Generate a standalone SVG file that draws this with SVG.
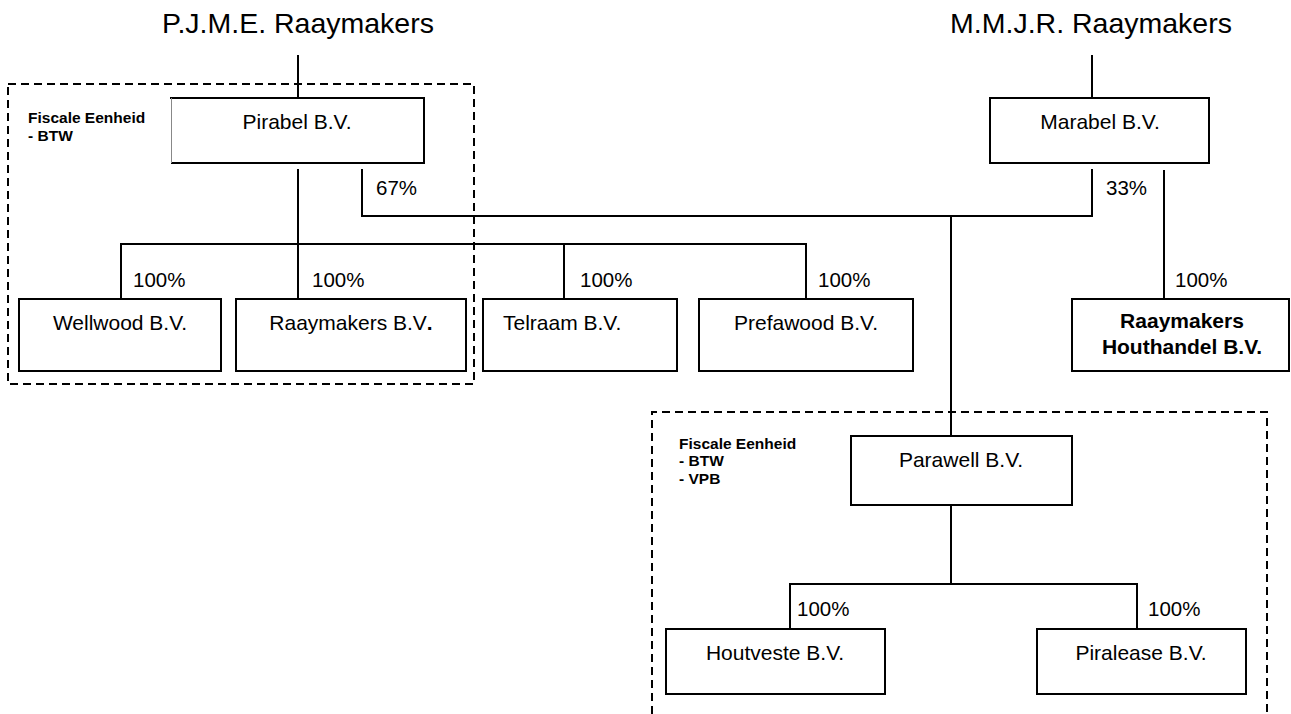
<svg xmlns="http://www.w3.org/2000/svg" width="1291" height="714" viewBox="0 0 1291 714">
<style>
.box{fill:#fff;stroke:#000;stroke-width:2}
.ln{fill:none;stroke:#000;stroke-width:2}
.dash{fill:none;stroke:#000;stroke-width:2;stroke-dasharray:8,5}
text{font-family:"Liberation Sans",Arial,sans-serif;fill:#000}
.nm{font-size:21px;text-anchor:middle}
.pc{font-size:20.5px}
.ttl{font-size:28.5px;text-anchor:middle}
.fe{font-size:15.5px;font-weight:bold}
.bold{font-weight:bold}
</style>
<rect width="1291" height="714" fill="#fff"/>
<g id="fiscal-groups">
<rect class="dash" x="8" y="84" width="466" height="300"/>
<path class="dash" d="M652,740 V412 H1267 V740"/>
<text class="fe" x="28" y="123">Fiscale Eenheid</text>
<text class="fe" x="28" y="141">- BTW</text>
<text class="fe" x="679" y="449">Fiscale Eenheid</text>
<text class="fe" x="679" y="466">- BTW</text>
<text class="fe" x="679" y="484">- VPB</text>
</g>
<g id="connectors">
<path class="ln" d="M298,55 V98"/>
<path class="ln" d="M1092,55 V98"/>
<path class="ln" d="M298,169 V299"/>
<path class="ln" d="M121,299 V244 H806 V299"/>
<path class="ln" d="M564,244 V299"/>
<path class="ln" d="M362,169 V216 H1092 V169"/>
<path class="ln" d="M951,216 V436"/>
<path class="ln" d="M1164,170 V299"/>
<path class="ln" d="M951,505 V584"/>
<path class="ln" d="M790,629 V584 H1137 V629"/>
<text class="pc" x="376" y="195">67%</text>
<text class="pc" x="1106" y="195">33%</text>
<text class="pc" x="133" y="287">100%</text>
<text class="pc" x="312" y="287">100%</text>
<text class="pc" x="580" y="287">100%</text>
<text class="pc" x="818" y="287">100%</text>
<text class="pc" x="1175" y="287">100%</text>
<text class="pc" x="797" y="616">100%</text>
<text class="pc" x="1148" y="616">100%</text>
</g>
<g id="pjme"><text class="ttl" x="298" y="33">P.J.M.E. Raaymakers</text></g>
<g id="mmjr"><text class="ttl" x="1091" y="33">M.M.J.R. Raaymakers</text></g>
<g id="pirabel">
<rect x="171" y="98" width="253" height="65" fill="#fff"/>
<path class="ln" d="M170,98 H424 V163 H171"/>
<path d="M171.5,98 V163" stroke="#888" stroke-width="1" fill="none"/>
<text class="nm" x="297" y="129">Pirabel B.V.</text>
</g>
<g id="marabel"><rect class="box" x="990" y="98" width="219" height="65"/><text class="nm" x="1100" y="129">Marabel B.V.</text></g>
<g id="wellwood"><rect class="box" x="19" y="299" width="202" height="72"/><text class="nm" x="120" y="330">Wellwood B.V.</text></g>
<g id="raaymakers"><rect class="box" x="236" y="299" width="230" height="72"/><text class="nm" x="351" y="330">Raaymakers B.V<tspan class="bold">.</tspan></text></g>
<g id="telraam"><rect class="box" x="483" y="299" width="194" height="72"/><text x="503" y="330" font-size="21">Telraam B.V.</text></g>
<g id="prefawood"><rect class="box" x="699" y="299" width="214" height="72"/><text class="nm" x="806" y="330">Prefawood B.V.</text></g>
<g id="houthandel"><rect class="box" x="1072" y="299" width="217" height="72"/><text class="nm bold" x="1182" y="328">Raaymakers</text><text class="nm bold" x="1182" y="354">Houthandel B.V.</text></g>
<g id="parawell"><rect class="box" x="851" y="436" width="221" height="69"/><text class="nm" x="961" y="467">Parawell B.V.</text></g>
<g id="houtveste"><rect class="box" x="666" y="629" width="219" height="65"/><text class="nm" x="775" y="660">Houtveste B.V.</text></g>
<g id="piralease"><rect class="box" x="1037" y="629" width="209" height="65"/><text class="nm" x="1141" y="660">Piralease B.V.</text></g>
</svg>
